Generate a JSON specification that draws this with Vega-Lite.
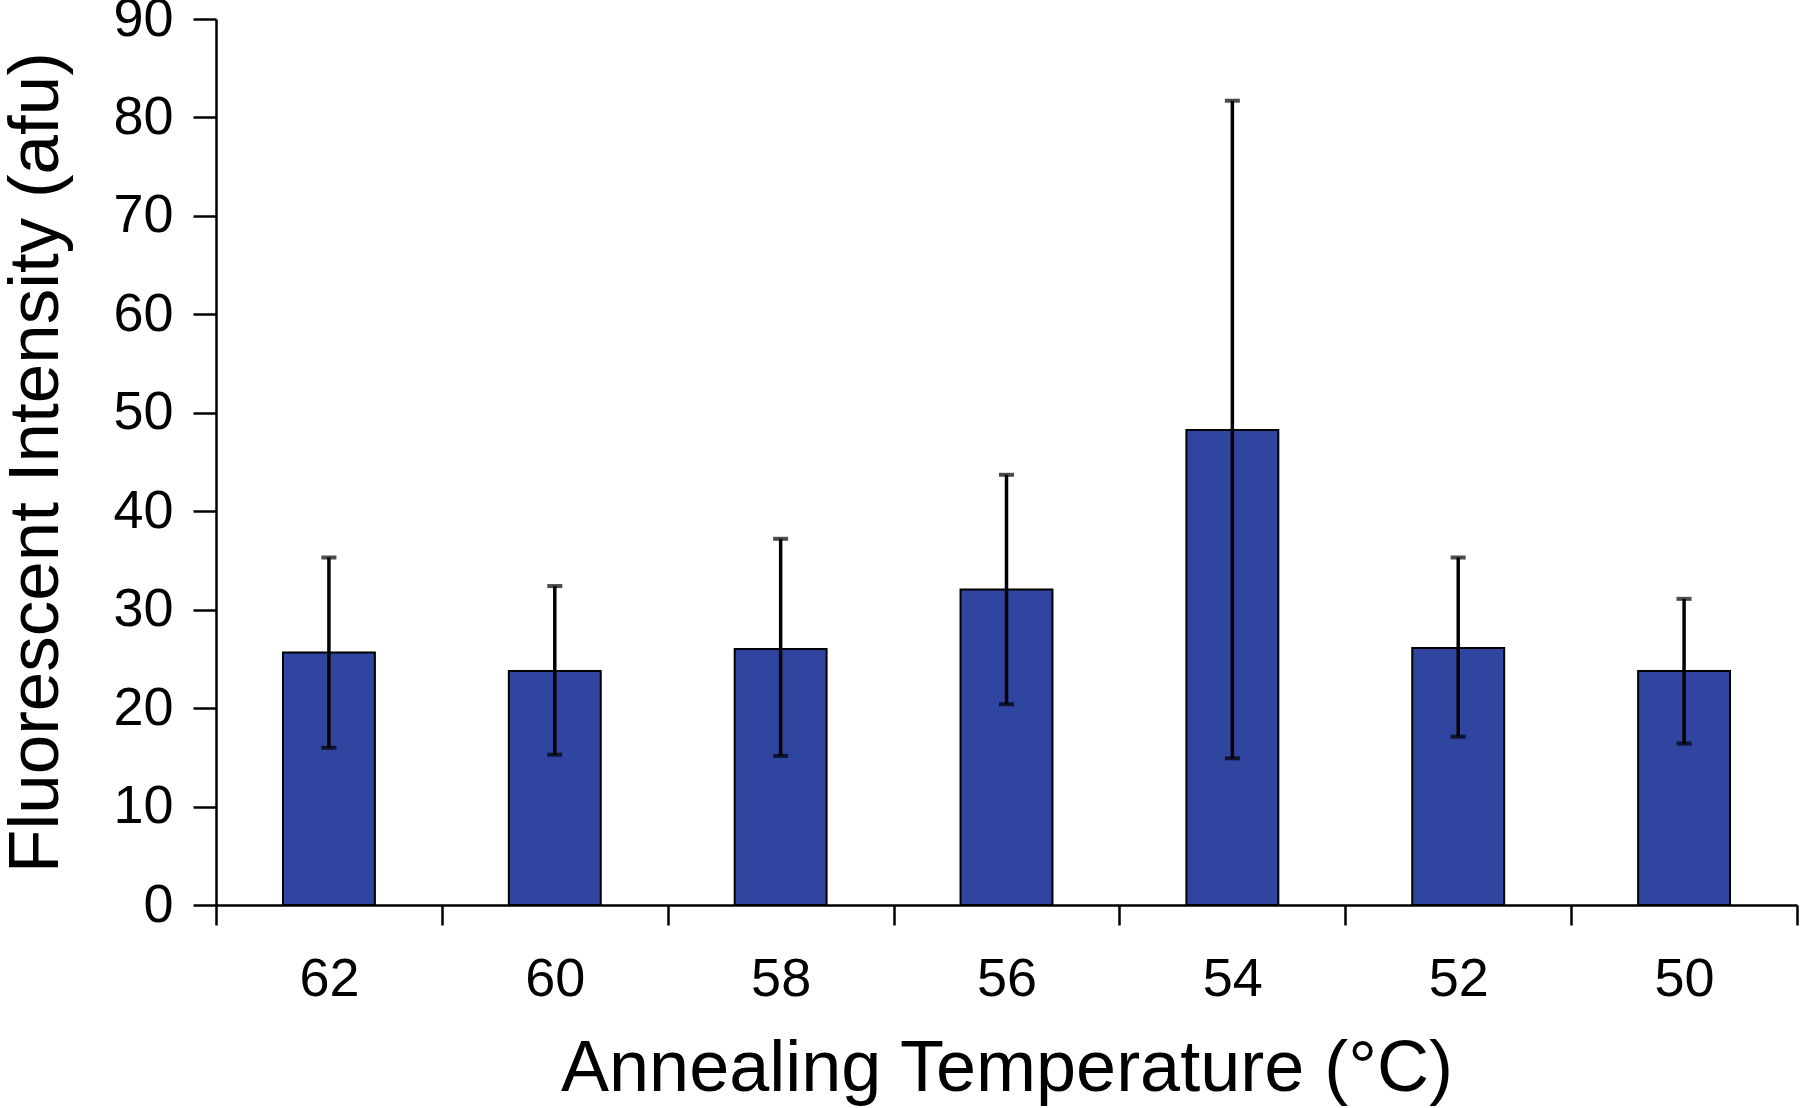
{
  "$schema": "https://vega.github.io/schema/vega-lite/v6.json",
  "autosize": "none",
  "width": 1581,
  "height": 886,
  "padding": {"left": 216, "top": 19, "right": 3, "bottom": 203},
  "background": "white",
  "config": {
    "view": {"stroke": null},
    "font": "Liberation Sans",
    "axis": {
      "domainColor": "black",
      "domainWidth": 2.5,
      "tickColor": "black",
      "tickWidth": 2.5,
      "labelColor": "black",
      "titleColor": "black",
      "labelFont": "Liberation Sans",
      "titleFont": "Liberation Sans",
      "labelFontSize": 54,
      "titleFontSize": 71,
      "titleFontWeight": "normal",
      "grid": false
    }
  },
  "data": {
    "values": [
      {"temp": "62", "mean": 25.65, "lo": 15.97, "hi": 35.3},
      {"temp": "60", "mean": 23.78, "lo": 15.27, "hi": 32.4},
      {"temp": "58", "mean": 26.0, "lo": 15.15, "hi": 37.2},
      {"temp": "56", "mean": 32.06, "lo": 20.4, "hi": 43.7},
      {"temp": "54", "mean": 48.26, "lo": 14.9, "hi": 81.7},
      {"temp": "52", "mean": 26.1, "lo": 17.1, "hi": 35.3},
      {"temp": "50", "mean": 23.78, "lo": 16.4, "hi": 31.1}
    ]
  },
  "encoding": {
    "x": {
      "field": "temp",
      "type": "ordinal",
      "sort": null,
      "scale": {"paddingInner": 0, "paddingOuter": 0},
      "axis": {
        "title": "Annealing Temperature (°C)",
        "titleFontSize": 72,
        "labelAngle": 0,
        "tickBand": "extent",
        "tickSize": 20,
        "labelPadding": 27,
        "titlePadding": 27
      }
    }
  },
  "layer": [
    {
      "mark": {"type": "bar", "color": "#2f459f", "stroke": "black", "strokeWidth": 2, "width": {"band": 0.407}},
      "encoding": {
        "y": {
          "field": "mean",
          "type": "quantitative",
          "scale": {"domain": [0, 90], "nice": false},
          "axis": {
            "title": "Fluorescent Intensity (afu)",
            "values": [0, 10, 20, 30, 40, 50, 60, 70, 80, 90],
            "tickSize": 23,
            "labelPadding": 20,
            "titlePadding": 40
          }
        }
      }
    },
    {
      "mark": {"type": "rule", "color": "black", "strokeWidth": 3.5},
      "encoding": {
        "y": {"field": "lo", "type": "quantitative"},
        "y2": {"field": "hi"}
      }
    },
    {
      "mark": {"type": "tick", "color": "black", "thickness": 4, "size": 15},
      "encoding": {"y": {"field": "lo", "type": "quantitative"}}
    },
    {
      "mark": {"type": "tick", "color": "black", "thickness": 4, "size": 15},
      "encoding": {"y": {"field": "hi", "type": "quantitative"}}
    }
  ]
}
